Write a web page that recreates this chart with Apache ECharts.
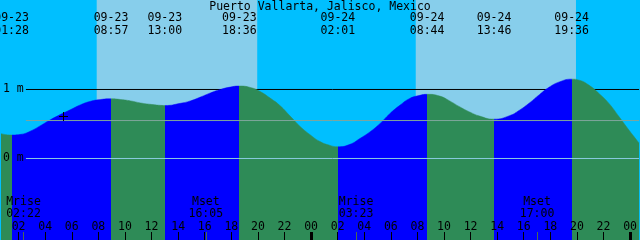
<!DOCTYPE html>
<html><head><meta charset="utf-8">
<script src="https://cdn.jsdelivr.net/npm/echarts@6/dist/echarts.min.js"></script>
<style>html,body{margin:0;padding:0;background:#00BFFF}#c{width:640px;height:240px}</style>
</head><body><div id="c"></div>
<script>
const TITLE = 'Puerto Vallarta, Jalisco, Mexico';
// times are hours since 09-23 00:00, heights in metres
const TIDE_HOURS = [0.675, 1.467, 2.175, 2.925, 3.675, 4.425, 5.175, 5.925, 6.675, 7.425, 8.175, 8.95, 9.675, 10.425, 11.175, 11.925, 12.675, 13.0, 14.175, 14.925, 15.675, 16.425, 17.175, 17.925, 18.6, 19.425, 20.175, 20.925, 21.675, 22.425, 23.175, 23.925, 24.675, 25.425, 26.017, 26.925, 27.675, 28.425, 29.175, 29.925, 30.675, 31.425, 32.175, 32.733, 33.675, 34.425, 35.175, 35.925, 36.675, 37.767, 38.925, 39.675, 40.425, 41.175, 41.925, 42.675, 43.6, 44.175, 44.925, 45.675, 46.425, 47.175, 47.925, 48.675];
const TIDE_HEIGHTS = [0.36, 0.34, 0.35, 0.40, 0.48, 0.565, 0.64, 0.71, 0.78, 0.83, 0.855, 0.865, 0.855, 0.835, 0.805, 0.785, 0.77, 0.768, 0.80, 0.835, 0.89, 0.95, 1.00, 1.035, 1.05, 1.03, 0.97, 0.875, 0.765, 0.615, 0.465, 0.345, 0.245, 0.19, 0.17, 0.205, 0.29, 0.385, 0.505, 0.65, 0.77, 0.87, 0.915, 0.93, 0.905, 0.835, 0.75, 0.675, 0.615, 0.57, 0.62, 0.70, 0.805, 0.925, 1.035, 1.11, 1.15, 1.135, 1.06, 0.94, 0.795, 0.605, 0.41, 0.225];
const EXTREME_HOURS = [1.467, 8.95, 13.0, 18.6, 26.017, 32.733, 37.767, 43.6];
const EXTREME_TYPES = ['L', 'H', 'L', 'H', 'L', 'H', 'L', 'H'];
const EXTREME_DATES = ['09-23', '09-23', '09-23', '09-23', '09-24', '09-24', '09-24', '09-24'];
const EXTREME_TIMES = ['01:28', '08:57', '13:00', '18:36', '02:01', '08:44', '13:46', '19:36'];
const SUNRISE_HOURS = [7.875, 31.875];
const SUNSET_HOURS = [19.95, 43.93];
const MOON_HOURS = [2.367, 16.083, 27.383, 41.0];
const MOON_NAMES = ['Mrise', 'Mset', 'Mrise', 'Mset'];
const MOON_TIMES = ['02:22', '16:05', '03:23', '17:00'];
const TICK_HOURS = [2, 4, 6, 8, 10, 12, 14, 16, 18, 20, 22, 24, 26, 28, 30, 32, 34, 36, 38, 40, 42, 44, 46, 48];
const MIDNIGHT_HOURS = [24, 48];
const LEVELS = [0, 1];
const MEAN_LEVEL = 0.55;
const NOW_MARK = [5.35, 0.62];

const X_MIN = 0.675, X_MAX = 48.675;
const Y_MIN = -1.1812, Y_MAX = 2.2971;
const LINE_START = 2.55;
const RISE = '#0000FF', FALL = '#2E8B57', DAY = '#87CEEB', NIGHT = '#00BFFF';
const FONT_FAMILY = '"DejaVu Sans Mono", "Liberation Mono", monospace';
const FONT_SIZE = 11.5;
const FONT = FONT_SIZE + 'px ' + FONT_FAMILY;

const tideData = TIDE_HOURS.map((t, i) => [t, TIDE_HEIGHTS[i]]);

const pieces = [];
let prev = null;
EXTREME_HOURS.forEach((t, i) => {
  const color = EXTREME_TYPES[i] === 'L' ? FALL : RISE;
  pieces.push(prev === null ? { lt: t, color } : { gte: prev, lt: t, color });
  prev = t;
});
pieces.push({ gte: prev, color: EXTREME_TYPES[EXTREME_TYPES.length - 1] === 'H' ? FALL : RISE });

const pad = v => (v < 10 ? '0' : '') + v;

const chart = echarts.init(document.getElementById('c'), null, { renderer: 'canvas' });
chart.setOption({
  animation: false,
  backgroundColor: NIGHT,
  title: {
    text: TITLE, left: 'center', top: 1, padding: 0,
    textStyle: { fontFamily: FONT_FAMILY, fontSize: FONT_SIZE, fontWeight: 'normal', color: '#000', lineHeight: 12 }
  },
  grid: { left: 0, right: 0, top: 0, bottom: 0, containLabel: false },
  xAxis: {
    type: 'value', min: X_MIN, max: X_MAX, z: 10, position: 'bottom',
    axisLine: { show: false, onZero: false },
    splitLine: { show: false },
    axisTick: {
      inside: true, length: 8, lineStyle: { color: '#000', width: 1 },
      customValues: TICK_HOURS.filter(h => MIDNIGHT_HOURS.indexOf(h) < 0)
    },
    axisLabel: {
      inside: true, margin: 7, customValues: TICK_HOURS,
      formatter: v => pad(Math.round(v) % 24),
      color: '#000', fontFamily: FONT_FAMILY, fontSize: FONT_SIZE
    }
  },
  yAxis: {
    type: 'value', min: Y_MIN, max: Y_MAX, z: 10,
    axisLine: { show: false, onZero: false }, axisTick: { show: false }, splitLine: { show: false },
    axisLabel: {
      inside: true, margin: 2, customValues: LEVELS,
      formatter: v => v + ' m',
      color: '#000', fontFamily: FONT_FAMILY, fontSize: FONT_SIZE
    }
  },
  visualMap: {
    type: 'piecewise', show: false, dimension: 0, seriesIndex: 2, pieces: pieces
  },
  series: [
    {
      type: 'custom', z: 0, silent: true, clip: true,
      data: SUNRISE_HOURS.map((t, i) => [t, SUNSET_HOURS[i]]),
      renderItem: (params, api) => {
        const p0 = api.coord([api.value(0), Y_MAX]);
        const p1 = api.coord([api.value(1), Y_MIN]);
        return { type: 'rect', shape: { x: p0[0], y: p0[1], width: p1[0] - p0[0], height: p1[1] - p0[1] }, style: { fill: DAY } };
      }
    },
    {
      type: 'line', z: 1, silent: true, symbol: 'none',
      data: [[LINE_START, 1], [X_MAX, 1]],
      lineStyle: { color: '#000', width: 1 }
    },
    {
      type: 'line', z: 2, silent: true, symbol: 'none', showSymbol: false,
      smooth: 0.5,
      data: tideData,
      lineStyle: { width: 0.5 },
      areaStyle: { origin: 'start', opacity: 1 }
    },
    {
      type: 'line', z: 3, silent: true, symbol: 'none',
      data: [[LINE_START, MEAN_LEVEL], [X_MAX, MEAN_LEVEL]],
      lineStyle: { color: '#7FA69C', width: 1 }
    },
    {
      type: 'line', z: 3, silent: true, symbol: 'none',
      data: [[LINE_START, LEVELS[0]], [X_MAX, LEVELS[0]]],
      lineStyle: { color: '#8ACBE0', width: 1 }
    },
    {
      type: 'custom', z: 5, silent: true, clip: false,
      data: EXTREME_HOURS.map((t, i) => [t, 0, i]),
      renderItem: (params, api) => {
        const i = api.value(2);
        const x = api.coord([api.value(0), 0])[0];
        return {
          type: 'text',
          style: { text: EXTREME_DATES[i] + '\n' + EXTREME_TIMES[i], x: x, y: 11.5, align: 'center', verticalAlign: 'top', font: FONT, lineHeight: 13, fill: '#000' }
        };
      }
    },
    {
      type: 'custom', z: 5, silent: true, clip: false,
      data: MOON_HOURS.map((t, i) => [t, 0, i]),
      renderItem: (params, api) => {
        const i = api.value(2);
        const x = api.coord([api.value(0), 0])[0];
        return {
          type: 'group',
          children: [
            { type: 'text', style: { text: MOON_NAMES[i] + '\n' + MOON_TIMES[i], x: x, y: 196, align: 'center', verticalAlign: 'top', font: FONT, lineHeight: 12, fill: '#000' } },
            { type: 'rect', shape: { x: Math.round(x), y: 232, width: 1, height: 8 }, style: { fill: '#4A6A50' } }
          ]
        };
      }
    },
    {
      type: 'custom', z: 5, silent: true, clip: false,
      data: MIDNIGHT_HOURS.map(t => [t, 0]),
      renderItem: (params, api) => {
        const x = api.coord([api.value(0), 0])[0];
        return { type: 'rect', shape: { x: Math.round(x) - 1, y: 232, width: 3, height: 8 }, style: { fill: '#000' } };
      }
    },
    {
      type: 'custom', z: 6, silent: true, clip: false,
      data: [NOW_MARK],
      renderItem: (params, api) => {
        const p = api.coord([api.value(0), api.value(1)]);
        const cx = Math.round(p[0]), cy = Math.round(p[1]);
        return {
          type: 'group',
          children: [
            { type: 'rect', shape: { x: cx - 4, y: cy, width: 9, height: 1 }, style: { fill: '#000' } },
            { type: 'rect', shape: { x: cx, y: cy - 4, width: 1, height: 9 }, style: { fill: '#000' } }
          ]
        };
      }
    }
  ]
});
</script>
</body></html>
